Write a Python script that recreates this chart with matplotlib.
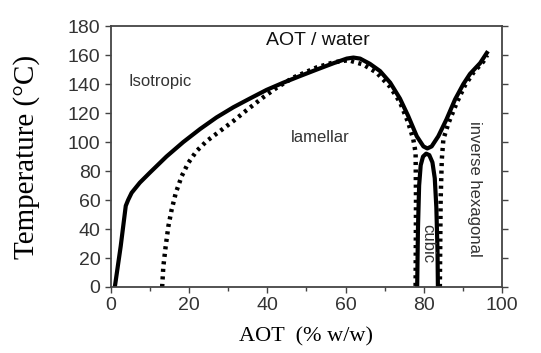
import matplotlib
matplotlib.use('Agg')
import matplotlib.pyplot as plt
from matplotlib.ticker import MultipleLocator

# isotropic / liquid crystal boundary (solid)
iso_x = [1.0, 2.5, 3.8, 4.4, 5.3, 7.4, 10.0, 14.2, 18.5, 22.8, 27.0, 31.3, 35.5,
         39.8, 44.1, 48.3, 52.6, 56.9, 60.3, 62.0, 63.7, 66.2, 68.8, 71.4, 73.9,
         76.0, 78.2, 79.9, 80.9, 82.0, 83.7, 85.8, 88.0, 90.1, 91.8, 94.4, 96.1]
iso_y = [0, 28, 56, 60, 65, 72, 79, 90, 100, 109, 117, 124, 130,
         136, 141, 145.5, 150, 154.4, 157.6, 158.3, 157.6, 154, 149, 141, 130,
         118, 104, 97, 95.6, 97, 104, 115.7, 129.5, 140, 147, 154.5, 161.5]

# cubic phase loop (solid)
cub_x = [78.3, 78.5, 78.8, 79.2, 79.8, 80.6, 81.4, 82.2, 82.8, 83.2, 83.5, 83.6]
cub_y = [0, 40, 70, 84, 90, 92, 91, 86, 75, 55, 25, 0]

# lamellar boundary (dotted)
lam_x = [13.1, 13.4, 14.0, 14.7, 15.5, 16.6, 18.1, 19.8, 21.9, 24.5, 27.9, 31.3,
         34.7, 39.0, 42.4, 46.6, 52.6, 56.9, 60.7, 64.5, 67.9, 71.4, 73.9, 76.0,
         77.3, 77.9, 78.0, 77.9]
lam_y = [0, 14, 28, 42, 53, 65, 76.5, 85.7, 93.8, 100.7, 107.6, 114.5,
         122, 131, 137.5, 144.5, 151.5, 155, 156.5, 153.5, 148, 138, 127.5, 113.5,
         102, 92.6, 60, 0]

# inverse hexagonal boundary (dotted)
hex_x = [84.1, 84.3, 84.6, 85.0, 86.3, 88.4, 90.5, 92.7, 95.2, 96.2]
hex_y = [0, 60, 88, 102, 113, 127, 139, 148, 155.5, 160]

plt.rcParams['font.family'] = ['Liberation Sans', 'DejaVu Sans']

fig = plt.figure(figsize=(5.41, 3.53), dpi=100)
ax = fig.add_axes([0.205, 0.187, 0.723, 0.739])

dots = (0, (0.7, 1.0))
ax.plot(lam_x, lam_y, color='black', lw=3.2, linestyle=dots)
ax.plot(hex_x, hex_y, color='black', lw=3.2, linestyle=dots)
ax.plot(iso_x, iso_y, color='black', lw=3.0)
ax.plot(cub_x, cub_y, color='black', lw=3.0)

ax.set_xlim(0, 100)
ax.set_ylim(0, 180)
ax.xaxis.set_major_locator(MultipleLocator(20))
ax.xaxis.set_minor_locator(MultipleLocator(10))
ax.yaxis.set_major_locator(MultipleLocator(20))
ax.tick_params(direction='out', right=True, labelsize=14, labelcolor='#333333',
               color='#444444', length=4, width=1)
ax.tick_params(which='minor', direction='out', length=3, width=1, color='#444444')
for s in ax.spines.values():
    s.set_color('#444444')
    s.set_linewidth(1.3)

ax.set_xlabel('AOT  (% w/w)', family='Liberation Serif', fontsize=16)
ax.set_ylabel('Temperature (°C)', family='Liberation Serif', fontsize=21)
ax.xaxis.set_label_coords(0.5, -0.155)
ax.yaxis.set_label_coords(-0.18, 0.5)

ax.text(53, 170, 'AOT / water', fontsize=14, ha='center', va='center', color='#111111')
ax.text(12.5, 142, 'Isotropic', fontsize=12, ha='center', va='center', color='#333333')
ax.text(53.4, 103, 'lamellar', fontsize=12, ha='center', va='center', color='#333333')
ax.text(80.9, 30, 'cubic', fontsize=12, ha='center', va='center', rotation=270,
        color='#333333')
ax.text(93, 68, 'inverse hexagonal', fontsize=12, ha='center', va='center',
        rotation=270, color='#333333')

fig.savefig('out.png', dpi=100)
